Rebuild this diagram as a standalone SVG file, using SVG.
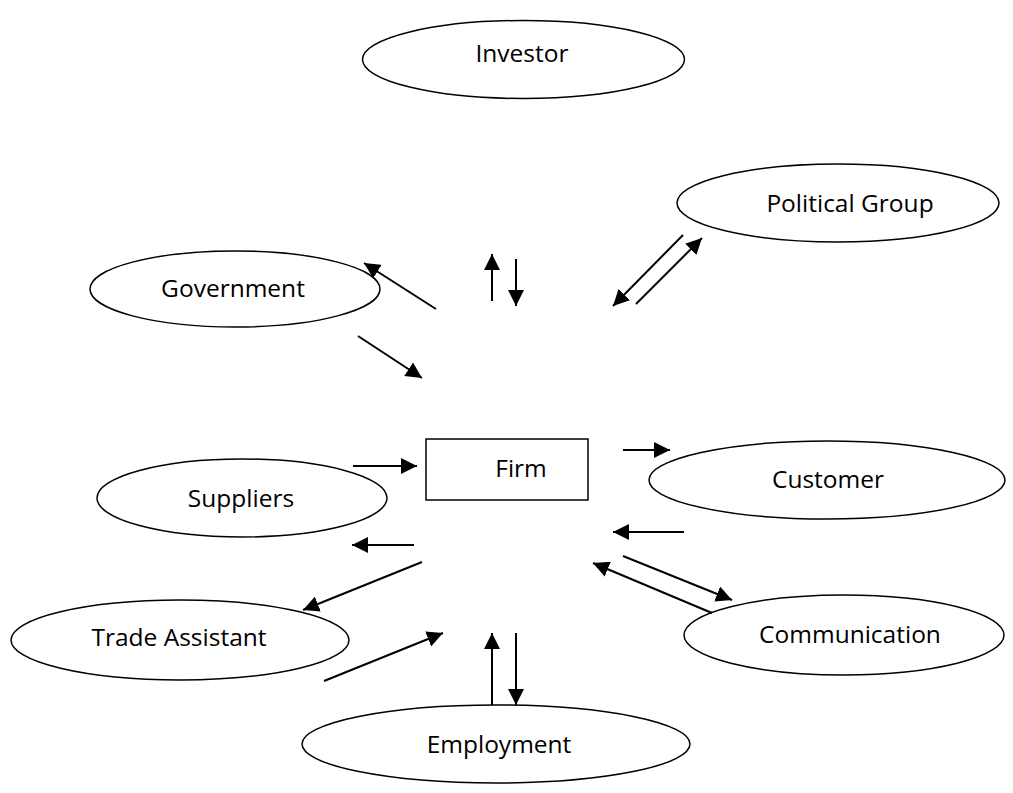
<svg xmlns="http://www.w3.org/2000/svg" width="1013" height="793" viewBox="0 0 1013 793">
<style>
.n{fill:#fff;stroke:#000;stroke-width:1.5}
.t{font-family:"Open Sans",sans-serif;font-size:24.5px;fill:#000;text-anchor:middle}
.c line{stroke:#000;stroke-width:2;marker-end:url(#ah)}
</style>
<defs>
<marker id="ah" markerUnits="userSpaceOnUse" markerWidth="18" markerHeight="16" refX="16" refY="8" orient="auto">
<path d="M0,0 L16,8 L0,16 Z" fill="#000"/>
</marker>
</defs>
<rect width="1013" height="793" fill="#fff"/>
<g id="investor"><ellipse class="n" cx="523.5" cy="59.5" rx="161" ry="39"/><text class="t" x="522" y="62">Investor</text></g>
<g id="political"><ellipse class="n" cx="838" cy="203" rx="161" ry="39"/><text class="t" x="850" y="212">Political Group</text></g>
<g id="government"><ellipse class="n" cx="235" cy="289" rx="145" ry="38"/><text class="t" x="233" y="297">Government</text></g>
<g id="firm"><rect class="n" x="426" y="439" width="162" height="61"/><text class="t" x="521" y="477">Firm</text></g>
<g id="suppliers"><ellipse class="n" cx="242" cy="498" rx="145" ry="39"/><text class="t" x="241" y="507">Suppliers</text></g>
<g id="customer"><ellipse class="n" cx="827" cy="480" rx="178" ry="39"/><text class="t" x="828" y="488">Customer</text></g>
<g id="trade"><ellipse class="n" cx="180" cy="640" rx="169" ry="40"/><text class="t" x="179" y="646">Trade Assistant</text></g>
<g id="communication"><ellipse class="n" cx="844" cy="635" rx="160" ry="40"/><text class="t" x="850" y="643">Communication</text></g>
<g id="employment"><ellipse class="n" cx="496" cy="744" rx="194" ry="39"/><text class="t" x="499" y="753">Employment</text></g>
<g id="connectors" class="c">
<line x1="436" y1="309" x2="364" y2="263"/>
<line x1="358" y1="336" x2="422" y2="378"/>
<line x1="492" y1="301" x2="492" y2="254"/>
<line x1="516" y1="259" x2="516" y2="306"/>
<line x1="683" y1="235" x2="613" y2="306"/>
<line x1="636" y1="304" x2="702" y2="238"/>
<line x1="353" y1="466" x2="417" y2="466"/>
<line x1="623" y1="450" x2="670" y2="450"/>
<line x1="684" y1="532" x2="613" y2="532"/>
<line x1="623" y1="556" x2="732" y2="600"/>
<line x1="712" y1="613" x2="593" y2="563"/>
<line x1="414" y1="545" x2="352" y2="545"/>
<line x1="422" y1="562" x2="303" y2="610"/>
<line x1="324" y1="681" x2="443" y2="633"/>
<line x1="492" y1="705" x2="492" y2="633"/>
<line x1="516" y1="633" x2="516" y2="705"/>
</g>
</svg>
